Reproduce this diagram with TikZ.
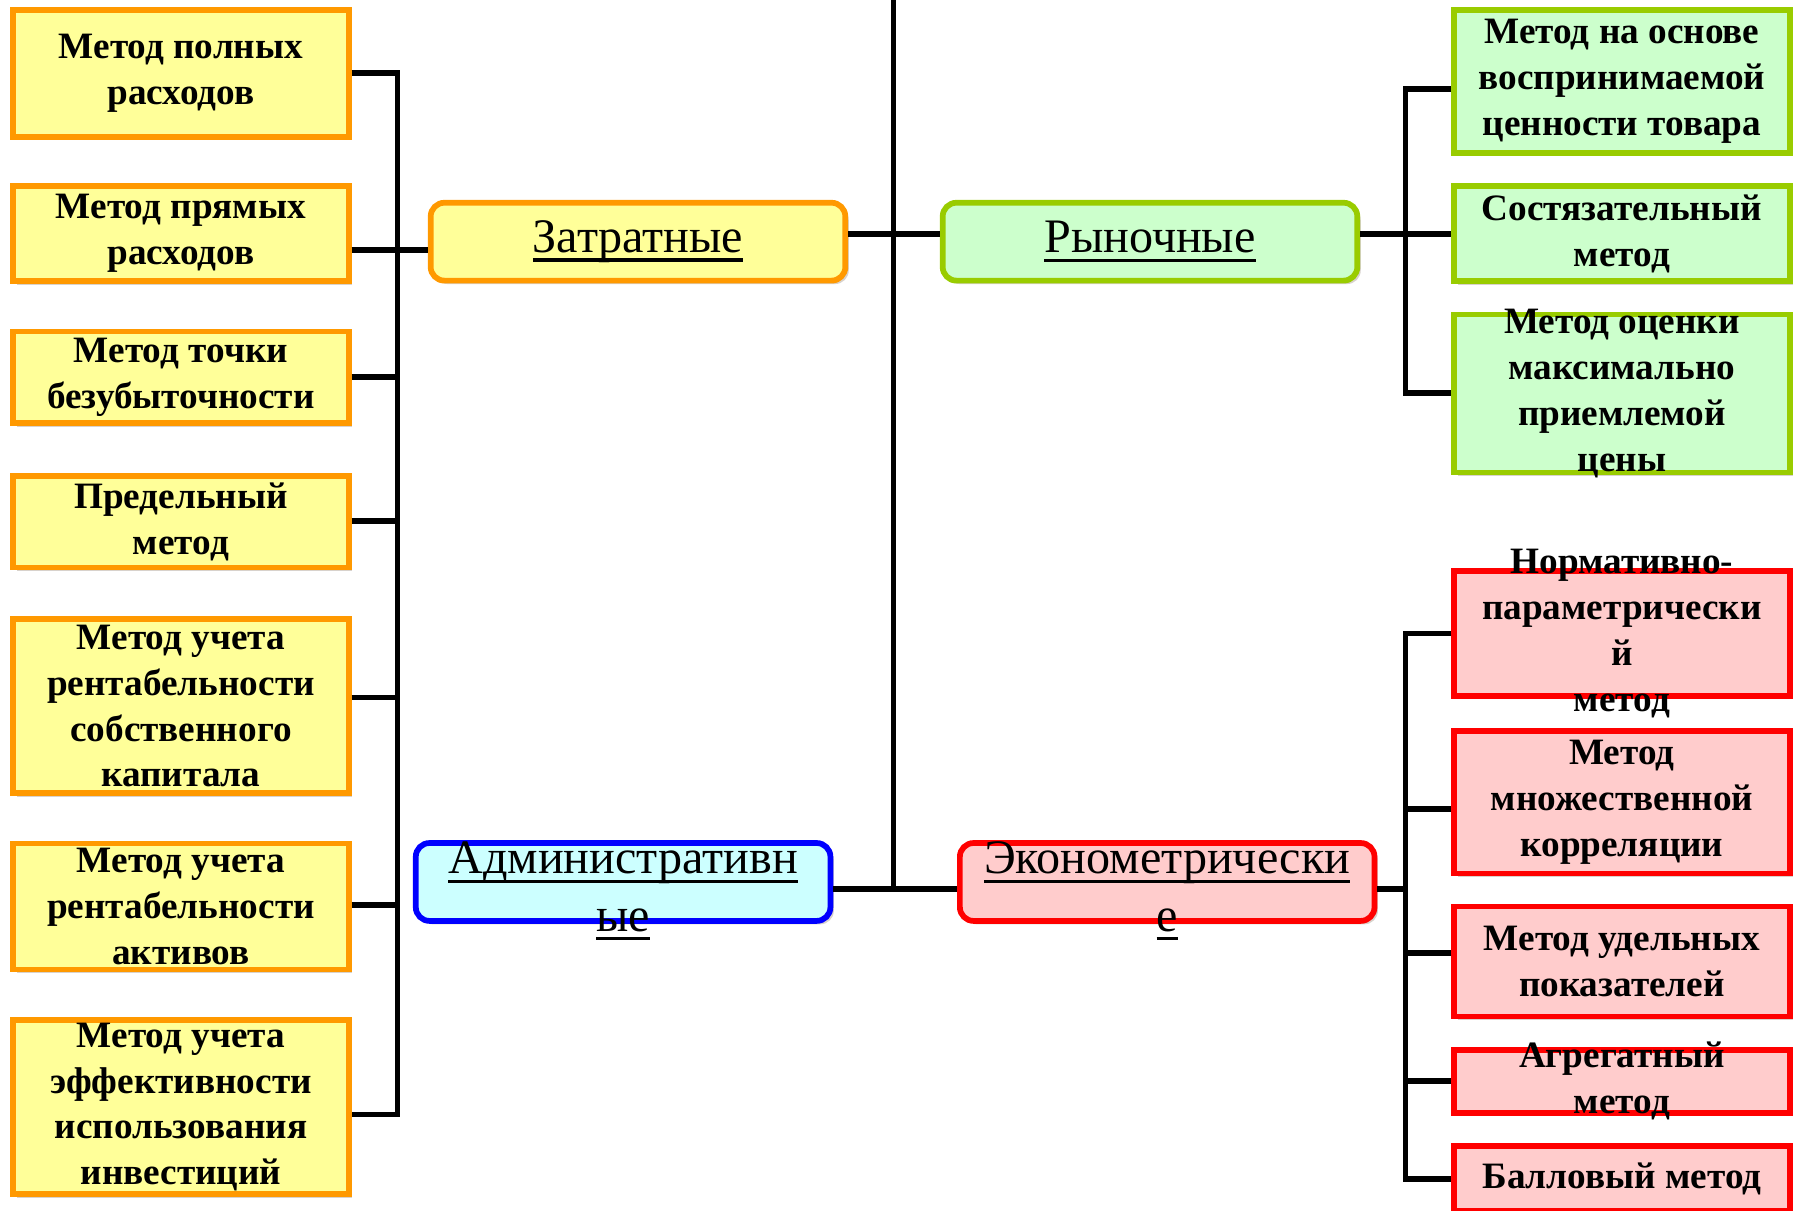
\documentclass[tikz,border=0pt]{standalone}
\usepackage{fontspec}
\setmainfont{Liberation Serif}
\usetikzlibrary{shadows}

\definecolor{orline}{HTML}{FF9900}
\definecolor{orfill}{HTML}{FFFF99}
\definecolor{grline}{HTML}{99CC00}
\definecolor{grfill}{HTML}{CCFFCC}
\definecolor{rdline}{HTML}{FF0000}
\definecolor{rdfill}{HTML}{FFCCCC}
\definecolor{blline}{HTML}{0000FF}
\definecolor{blfill}{HTML}{CCFFFF}

% thick underline for the group titles
\newcommand{\ulw}[1]{\leavevmode\setbox0\hbox{#1}\rlap{\rule[-8pt]{\wd0}{3pt}}\box0}

\begin{document}
\begin{tikzpicture}[x=1pt,y=-1pt,
		conn/.style={line width=5pt,line join=miter},
		shade/.style={drop shadow={shadow xshift=3pt,shadow yshift=-3pt,opacity=.22,fill=black!60!brown}},
		leaf/.style={rectangle,line width=5pt,minimum width=293pt,inner sep=0pt,shade},
		yleaf/.style={leaf,draw=orline,fill=orfill},
		gleaf/.style={leaf,draw=grline,fill=grfill},
		rleaf/.style={leaf,draw=rdline,fill=rdfill},
		group/.style={rectangle,rounded corners=12pt,line width=5pt,minimum width=362pt,minimum height=68pt,inner sep=0pt,shade},
		ltext/.style={align=center,inner sep=0pt,font=\fontsize{32.5}{40}\selectfont\bfseries},
		gtext/.style={align=center,inner sep=0pt,font=\fontsize{42}{50}\selectfont}]
	\useasboundingbox (0,0) rectangle (1568,1057);
	
	% bus lines
	\coordinate (ttop) at (780,0);
	\coordinate (tbot) at (780,776);
	\coordinate (lbus) at (347,0);
	\coordinate (rbus) at (1227,0);
	
	% group boxes
	\foreach \xx/\yy/\col/\nm [count=\i] in {557/211/or/zat,1004/211/gr/ryn,544/770/bl/adm,1019/770/rd/eco}
	{\node[group,draw=\col line,fill=\col fill] (\nm) at (\xx,\yy) {};}
	\node[gtext] (zatt) at (zat) {\ulw{Затратные}};
	\node[gtext] (rynt) at (ryn) {\ulw{Рыночные}};
	\node[gtext] (admt) at ([yshift=-8pt]adm) {\ulw{Административн}\\\ulw{ые}};
	\node[gtext] (ecot) at ([yshift=-8pt]eco) {\ulw{Эконометрически}\\\ulw{е}};
	
	% cost based methods
	\foreach \yy/\hh/\txt [count=\i] in {
		64/111/{Метод полных\\расходов},
		204/83/{Метод прямых\\расходов},
		329.5/80/{Метод точки\\безубыточности},
		455.5/80/{Предельный\\метод},
		616.5/152/{Метод учета\\рентабельности\\собственного\\капитала},
		791.5/110/{Метод учета\\рентабельности\\активов},
		966.5/152/{Метод учета\\эффективности\\использования\\инвестиций}}
	{\node[yleaf,minimum height=\hh] (l\i) at (158,\yy) {};
		\node[ltext] (lt\i) at (l\i) {\txt};}
	
	% market methods
	\foreach \yy/\hh/\txt [count=\i] in {
		71/125/{Метод на основе\\воспринимаемой\\ценности товара},
		204/83/{Состязательный\\метод},
		343.5/138/{Метод оценки\\максимально\\приемлемой\\цены}}
	{\node[gleaf,minimum height=\hh] (g\i) at (1416,\yy) {};
		\node[ltext] (gt\i) at (g\i) {\txt};}
	
	% econometric methods
	\foreach \yy/\hh/\txt [count=\i] in {
		553/109/{Нормативно-\\параметрически\\й\\метод},
		700.5/124/{Метод\\множественной\\корреляции},
		839.5/96/{Метод удельных\\показателей},
		944/55/{Агрегатный\\метод},
		1029/57/{Балловый метод}}
	{\node[rleaf,minimum height=\hh] (r\i) at (1416,\yy) {};
		\node[ltext] (rt\i) at (r\i) {\txt};}
	
	% trunk and links between groups
	\draw[conn] (ttop) -- (tbot);
	\draw[conn] (zat.east |- 0,204) -- (ryn.west |- 0,204);
	\draw[conn] (adm.east |- tbot) -- (eco.west |- tbot);
	
	% left tree
	\draw[conn] (l1.east |- 0,64) -| (lbus |- 0,973) -- (l7.east |- 0,973);
	\draw[conn] (l2.east |- 0,218) -- (zat.west |- 0,218);
	\foreach \cy [count=\i from 3] in {329,455,609,790}
	{\draw[conn] (l\i.east |- 0,\cy) -- (lbus |- 0,\cy);}
	
	% right upper tree
	\draw[conn] (g1.west |- 0,78) -| (rbus |- 0,343) -- (g3.west |- 0,343);
	\draw[conn] (ryn.east |- 0,204) -- (g2.west |- 0,204);
	
	% right lower tree
	\draw[conn] (r1.west |- 0,553) -| (rbus |- 0,1029) -- (r5.west |- 0,1029);
	\draw[conn] (eco.east |- tbot) -- (rbus |- tbot);
	\foreach \cy [count=\i from 2] in {706,832,944}
	{\draw[conn] (r\i.west |- 0,\cy) -- (rbus |- 0,\cy);}
\end{tikzpicture}
\end{document}
